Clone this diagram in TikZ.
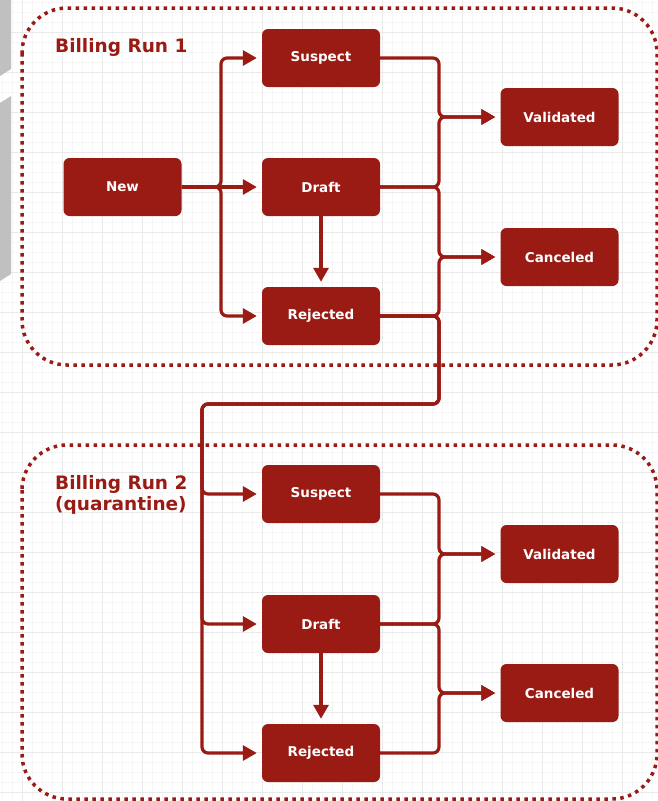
\documentclass[tikz,border=0pt]{standalone}
\usepackage{fontspec}
\setmainfont{DejaVu Sans}
\usetikzlibrary{arrows.meta}
\definecolor{runred}{RGB}{154,27,20}
\definecolor{gridminor}{RGB}{246,246,246}
\definecolor{gridmajor}{RGB}{234,234,234}
\definecolor{sidegray}{RGB}{192,192,192}
\begin{document}
\begin{tikzpicture}[x=1pt,y=-1pt,
  state/.style={fill=runred, rounded corners=6pt, minimum width=118pt,
    minimum height=58pt, inner sep=0pt, text=white,
    font=\fontsize{13.5}{16}\selectfont\bfseries},
  conn/.style={draw=runred, line width=3.2pt, rounded corners=6pt,
    shorten >=5pt, -{Triangle[length=14pt,width=15pt]}},
  runbox/.style={draw=runred, line width=3.5pt,
    dash pattern=on 3.5pt off 4.5pt, rounded corners=45pt},
  runtitle/.style={text=runred, font=\fontsize{18.5}{21}\selectfont\bfseries,
    inner sep=0pt, align=left}]

\useasboundingbox (0,0) rectangle (658,801);
\fill[white] (0,0) rectangle (658,801);

% background grid
\foreach \x in {2,12,...,652} \draw[gridminor, line width=0.8pt] (\x,0) -- (\x,801);
\foreach \y in {2,12,...,800} \draw[gridminor, line width=0.8pt] (0,\y) -- (658,\y);
\foreach \x in {22,62,...,622} \draw[gridmajor, line width=0.8pt] (\x,0) -- (\x,801);
\foreach \y in {32,72,...,792} \draw[gridmajor, line width=0.8pt] (0,\y) -- (658,\y);

% grey shapes at the left border
\fill[sidegray] (0,0) -- (11,0) -- (11,69) -- (0,76) -- cycle;
\fill[sidegray] (0,103) -- (11,96) -- (11,274) -- (0,281) -- cycle;

% billing run containers
\draw[runbox] (22,8) rectangle (657,365);
\draw[runbox] (22,445) rectangle (657,799);
\node[runtitle, anchor=base west] (t1) at (55,52) {Billing Run 1};
\node[runtitle, anchor=north west] (t2) at (55,475.5) {Billing Run 2\\(quarantine)};

% states of run 1
\node[state] (new1) at (122.5,187) {New};
\node[state] (sus1) at (321,58) {Suspect};
\node[state] (dra1) at (321,187) {Draft};
\node[state] (rej1) at (321,316) {Rejected};
\node[state] (val1) at (559.5,117) {Validated};
\node[state] (can1) at (559.5,257) {Canceled};

% states of run 2
\node[state] (sus2) at (321,494) {Suspect};
\node[state] (dra2) at (321,624) {Draft};
\node[state] (rej2) at (321,753) {Rejected};
\node[state] (val2) at (559.5,554) {Validated};
\node[state] (can2) at (559.5,693) {Canceled};

% bus positions
\coordinate (lb) at (221,187);
\coordinate (rb) at (439,0);
\coordinate (lnk) at (202,404);

% run 1 transitions
\draw[conn] (new1.east) -- (lb) |- (sus1.west);
\draw[conn] (new1.east) -- (dra1.west);
\draw[conn] (new1.east) -- (lb) |- (rej1.west);
\draw[conn] (dra1.south) -- (rej1.north);
\draw[conn] (sus1.east) -- (sus1.east -| rb) |- (val1.west);
\draw[conn] (dra1.east) -- (dra1.east -| rb) |- (val1.west);
\draw[conn] (dra1.east) -- (dra1.east -| rb) |- (can1.west);
\draw[conn] (rej1.east) -- (rej1.east -| rb) |- (can1.west);

% rejected items move into run 2
\draw[conn] (rej1.east) -- (rej1.east -| rb) |- (lnk) |- (sus2.west);
\draw[conn] (rej1.east) -- (rej1.east -| rb) |- (lnk) |- (dra2.west);
\draw[conn] (rej1.east) -- (rej1.east -| rb) |- (lnk) |- (rej2.west);

% run 2 transitions
\draw[conn] (dra2.south) -- (rej2.north);
\draw[conn] (sus2.east) -- (sus2.east -| rb) |- (val2.west);
\draw[conn] (dra2.east) -- (dra2.east -| rb) |- (val2.west);
\draw[conn] (dra2.east) -- (dra2.east -| rb) |- (can2.west);
\draw[conn] (rej2.east) -- (rej2.east -| rb) |- (can2.west);
\end{tikzpicture}
\end{document}
